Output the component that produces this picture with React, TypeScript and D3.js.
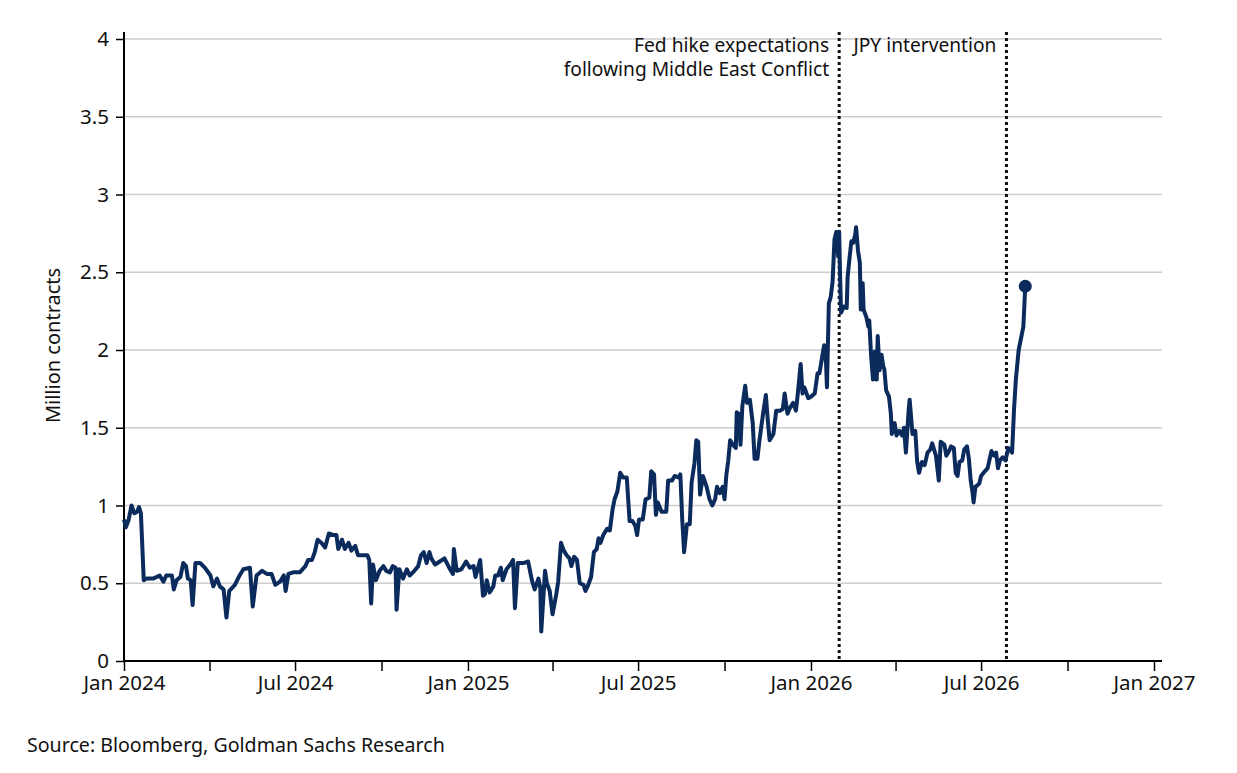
import { useEffect, useRef } from 'react';
import * as d3 from 'd3';

// Open interest, million contracts
const series2024: [string, number][] = [
    ["2024-01-01", 0.91], ["2024-01-03", 0.86], ["2024-01-06", 0.91], ["2024-01-09", 1.00], ["2024-01-12", 0.95],
    ["2024-01-15", 0.96], ["2024-01-17", 0.99], ["2024-01-19", 0.95], ["2024-01-22", 0.52], ["2024-01-25", 0.53],
    ["2024-02-01", 0.53], ["2024-02-08", 0.55], ["2024-02-12", 0.51], ["2024-02-15", 0.55], ["2024-02-21", 0.55],
    ["2024-02-23", 0.46], ["2024-02-26", 0.52], ["2024-03-01", 0.54], ["2024-03-04", 0.63], ["2024-03-07", 0.61],
    ["2024-03-09", 0.53], ["2024-03-12", 0.52], ["2024-03-14", 0.36], ["2024-03-17", 0.63], ["2024-03-22", 0.63],
    ["2024-03-27", 0.60], ["2024-04-02", 0.55], ["2024-04-05", 0.48], ["2024-04-09", 0.53], ["2024-04-12", 0.48],
    ["2024-04-16", 0.46], ["2024-04-19", 0.28], ["2024-04-22", 0.45], ["2024-04-28", 0.49], ["2024-05-03", 0.55],
    ["2024-05-07", 0.59], ["2024-05-14", 0.60], ["2024-05-17", 0.35], ["2024-05-21", 0.55], ["2024-05-27", 0.58],
    ["2024-06-01", 0.56], ["2024-06-06", 0.56], ["2024-06-10", 0.49], ["2024-06-15", 0.51], ["2024-06-19", 0.55],
    ["2024-06-21", 0.45], ["2024-06-24", 0.56], ["2024-06-29", 0.57], ["2024-07-06", 0.57], ["2024-07-12", 0.61],
    ["2024-07-15", 0.65], ["2024-07-19", 0.65], ["2024-07-22", 0.70], ["2024-07-25", 0.78], ["2024-07-29", 0.76],
    ["2024-08-02", 0.73], ["2024-08-06", 0.82], ["2024-08-11", 0.81], ["2024-08-14", 0.81], ["2024-08-16", 0.72],
    ["2024-08-20", 0.78], ["2024-08-23", 0.72], ["2024-08-27", 0.76], ["2024-08-30", 0.71], ["2024-09-03", 0.74],
    ["2024-09-06", 0.68], ["2024-09-12", 0.68], ["2024-09-16", 0.68], ["2024-09-18", 0.65], ["2024-09-20", 0.37],
    ["2024-09-22", 0.62], ["2024-09-25", 0.52], ["2024-09-29", 0.58], ["2024-10-03", 0.61], ["2024-10-06", 0.58],
    ["2024-10-10", 0.57], ["2024-10-13", 0.61], ["2024-10-16", 0.60], ["2024-10-17", 0.33], ["2024-10-20", 0.59],
    ["2024-10-24", 0.53], ["2024-10-28", 0.59], ["2024-10-31", 0.55], ["2024-11-05", 0.58], ["2024-11-09", 0.61],
    ["2024-11-12", 0.68], ["2024-11-15", 0.70], ["2024-11-18", 0.63], ["2024-11-21", 0.70], ["2024-11-23", 0.66],
    ["2024-11-27", 0.62], ["2024-12-02", 0.64], ["2024-12-07", 0.66], ["2024-12-12", 0.60], ["2024-12-16", 0.56],
    ["2024-12-17", 0.72], ["2024-12-20", 0.58], ["2024-12-25", 0.59], ["2024-12-30", 0.64],
];

const series2025: [string, number][] = [
    ["2025-01-03", 0.60], ["2025-01-07", 0.61], ["2025-01-09", 0.54], ["2025-01-14", 0.65], ["2025-01-17", 0.42],
    ["2025-01-19", 0.43], ["2025-01-21", 0.52], ["2025-01-24", 0.44], ["2025-01-28", 0.48], ["2025-01-30", 0.55],
    ["2025-02-02", 0.55], ["2025-02-05", 0.60], ["2025-02-07", 0.52], ["2025-02-11", 0.59], ["2025-02-15", 0.62],
    ["2025-02-18", 0.65], ["2025-02-20", 0.34], ["2025-02-23", 0.63], ["2025-03-01", 0.63], ["2025-03-06", 0.64],
    ["2025-03-10", 0.52], ["2025-03-13", 0.46], ["2025-03-17", 0.53], ["2025-03-19", 0.47], ["2025-03-20", 0.19],
    ["2025-03-24", 0.58], ["2025-03-26", 0.50], ["2025-03-29", 0.45], ["2025-04-01", 0.30], ["2025-04-05", 0.43],
    ["2025-04-07", 0.51], ["2025-04-10", 0.76], ["2025-04-13", 0.71], ["2025-04-16", 0.68], ["2025-04-19", 0.66],
    ["2025-04-21", 0.61], ["2025-04-24", 0.67], ["2025-04-27", 0.65], ["2025-04-30", 0.50], ["2025-05-04", 0.49],
    ["2025-05-06", 0.45], ["2025-05-09", 0.49], ["2025-05-12", 0.54], ["2025-05-15", 0.70], ["2025-05-18", 0.72],
    ["2025-05-20", 0.79], ["2025-05-22", 0.76], ["2025-05-25", 0.81], ["2025-05-29", 0.85], ["2025-06-01", 0.84],
    ["2025-06-04", 0.98], ["2025-06-06", 1.04], ["2025-06-09", 1.09], ["2025-06-12", 1.21], ["2025-06-15", 1.18],
    ["2025-06-19", 1.18], ["2025-06-22", 0.90], ["2025-06-25", 0.90], ["2025-06-28", 0.87], ["2025-06-30", 0.81],
    ["2025-07-02", 0.91], ["2025-07-06", 0.91], ["2025-07-09", 1.04], ["2025-07-13", 1.05], ["2025-07-15", 1.22],
    ["2025-07-18", 1.20], ["2025-07-20", 0.94], ["2025-07-22", 1.02], ["2025-07-26", 0.96], ["2025-07-31", 0.96],
    ["2025-08-02", 1.16], ["2025-08-06", 1.16], ["2025-08-09", 1.19], ["2025-08-13", 1.18], ["2025-08-15", 1.20],
    ["2025-08-17", 0.91], ["2025-08-19", 0.70], ["2025-08-22", 0.88], ["2025-08-25", 0.88], ["2025-08-27", 1.15],
    ["2025-08-30", 1.27], ["2025-09-01", 1.42], ["2025-09-03", 1.41], ["2025-09-05", 1.07], ["2025-09-08", 1.19],
    ["2025-09-12", 1.12], ["2025-09-15", 1.04], ["2025-09-18", 1.00], ["2025-09-21", 1.04], ["2025-09-23", 1.12],
    ["2025-09-26", 1.08], ["2025-09-29", 1.12], ["2025-10-01", 1.04], ["2025-10-03", 1.20], ["2025-10-05", 1.29],
    ["2025-10-07", 1.42], ["2025-10-10", 1.39], ["2025-10-13", 1.37], ["2025-10-14", 1.60], ["2025-10-16", 1.59],
    ["2025-10-18", 1.39], ["2025-10-20", 1.64], ["2025-10-23", 1.77], ["2025-10-25", 1.66], ["2025-10-28", 1.68],
    ["2025-10-31", 1.53], ["2025-11-02", 1.30], ["2025-11-05", 1.30], ["2025-11-07", 1.41], ["2025-11-11", 1.59],
    ["2025-11-14", 1.71], ["2025-11-16", 1.55], ["2025-11-18", 1.42], ["2025-11-22", 1.46], ["2025-11-25", 1.61],
    ["2025-11-29", 1.61], ["2025-12-02", 1.62], ["2025-12-04", 1.72], ["2025-12-07", 1.59], ["2025-12-09", 1.62],
    ["2025-12-13", 1.66], ["2025-12-16", 1.61], ["2025-12-18", 1.72], ["2025-12-21", 1.91], ["2025-12-23", 1.72],
    ["2025-12-25", 1.76], ["2025-12-29", 1.69],
];

const series2026: [string, number][] = [
    ["2026-01-01", 1.70], ["2026-01-05", 1.72], ["2026-01-08", 1.85], ["2026-01-10", 1.85], ["2026-01-13", 1.96],
    ["2026-01-15", 2.03], ["2026-01-17", 1.92], ["2026-01-18", 1.76], ["2026-01-20", 2.30], ["2026-01-22", 2.34],
    ["2026-01-24", 2.44], ["2026-01-26", 2.71], ["2026-01-28", 2.76], ["2026-01-30", 2.60], ["2026-01-31", 2.76],
    ["2026-02-01", 2.47], ["2026-02-02", 2.24], ["2026-02-05", 2.28], ["2026-02-08", 2.27], ["2026-02-09", 2.47],
    ["2026-02-11", 2.59], ["2026-02-13", 2.70], ["2026-02-15", 2.69], ["2026-02-17", 2.74], ["2026-02-18", 2.79],
    ["2026-02-20", 2.64], ["2026-02-22", 2.56], ["2026-02-23", 2.26], ["2026-02-25", 2.43], ["2026-02-26", 2.26],
    ["2026-03-01", 2.21], ["2026-03-03", 2.15], ["2026-03-04", 2.19], ["2026-03-06", 1.96], ["2026-03-08", 1.81],
    ["2026-03-10", 1.99], ["2026-03-12", 1.81], ["2026-03-13", 2.09], ["2026-03-15", 1.87], ["2026-03-17", 1.97],
    ["2026-03-19", 1.89], ["2026-03-20", 1.88], ["2026-03-22", 1.74], ["2026-03-25", 1.70], ["2026-03-27", 1.59],
    ["2026-03-28", 1.46], ["2026-03-31", 1.53], ["2026-04-02", 1.45], ["2026-04-05", 1.48], ["2026-04-08", 1.45],
    ["2026-04-10", 1.50], ["2026-04-12", 1.34], ["2026-04-15", 1.62], ["2026-04-16", 1.68], ["2026-04-19", 1.46],
    ["2026-04-22", 1.48], ["2026-04-24", 1.28], ["2026-04-26", 1.21], ["2026-04-29", 1.28], ["2026-05-02", 1.26],
    ["2026-05-05", 1.34], ["2026-05-08", 1.36], ["2026-05-10", 1.40], ["2026-05-14", 1.32], ["2026-05-17", 1.16],
    ["2026-05-19", 1.41], ["2026-05-23", 1.39], ["2026-05-25", 1.32], ["2026-05-28", 1.35], ["2026-05-30", 1.38],
    ["2026-06-02", 1.37], ["2026-06-04", 1.21], ["2026-06-06", 1.19], ["2026-06-08", 1.28], ["2026-06-11", 1.29],
    ["2026-06-13", 1.36], ["2026-06-16", 1.38], ["2026-06-18", 1.30], ["2026-06-20", 1.16], ["2026-06-22", 1.08],
    ["2026-06-23", 1.02], ["2026-06-25", 1.12], ["2026-06-29", 1.14], ["2026-07-01", 1.19], ["2026-07-05", 1.22],
    ["2026-07-08", 1.24], ["2026-07-12", 1.35], ["2026-07-14", 1.33], ["2026-07-15", 1.32], ["2026-07-17", 1.34],
    ["2026-07-19", 1.24], ["2026-07-21", 1.29], ["2026-07-24", 1.31], ["2026-07-27", 1.29], ["2026-07-30", 1.37],
    ["2026-08-01", 1.36], ["2026-08-03", 1.34], ["2026-08-05", 1.61], ["2026-08-07", 1.81], ["2026-08-10", 2.00],
    ["2026-08-13", 2.09], ["2026-08-15", 2.15], ["2026-08-17", 2.41],
];

const yTicks = [0, 0.5, 1, 1.5, 2, 2.5, 3, 3.5, 4];

const events = [
    { date: "2026-01-31", lines: ["Fed hike expectations", "following Middle East Conflict"] },
    { date: "2026-07-28", lines: ["JPY intervention"] },
];

const yLabel = "Million contracts";
const sourceText = "Source: Bloomberg, Goldman Sachs Research";

export default function App() {
    const svgRef = useRef<SVGSVGElement>(null);
    const width = 1237;
    const height = 773;

    useEffect(() => {
        if (!svgRef.current) return;
        const svg = d3.select(svgRef.current);
        svg.selectAll("*").remove();

        const font = "'Noto Sans', 'Open Sans', sans-serif";
        const navy = "#0b2b5c";
        const ink = "#111";
        const parse = d3.timeParse("%Y-%m-%d");
        const data = [...series2024, ...series2025, ...series2026]
            .map(([d, v]) => ({ date: parse(d) as Date, value: v }));

        const left = 124, right = 1154, top = 39, bottom = 661;
        const x = d3.scaleTime()
            .domain([new Date(2024, 0, 1), new Date(2027, 0, 1)])
            .range([left, right]);
        const y = d3.scaleLinear().domain([0, 4]).range([bottom, top]);

        // grid
        svg.append("g")
            .selectAll("line")
            .data(yTicks.filter(t => t > 0))
            .enter()
            .append("line")
            .attr("x1", left)
            .attr("x2", 1162)
            .attr("y1", d => y(d))
            .attr("y2", d => y(d))
            .attr("stroke", "#cdcdcd")
            .attr("stroke-width", 1.5);

        // y axis
        const yAxis = svg.append("g")
            .attr("transform", `translate(${left},0)`)
            .call(d3.axisLeft(y).tickValues(yTicks).tickSize(8).tickPadding(7).tickFormat(d => String(d)));
        yAxis.select(".domain").remove();
        yAxis.selectAll(".tick line").attr("stroke", "#000").attr("stroke-width", 1.5);
        yAxis.selectAll("text")
            .style("font-family", font)
            .style("font-size", "20.5px")
            .style("fill", ink);
        svg.append("line")
            .attr("x1", left).attr("x2", left)
            .attr("y1", 32).attr("y2", bottom)
            .attr("stroke", "#000").attr("stroke-width", 2);

        // x axis
        const xAxis = svg.append("g")
            .attr("transform", `translate(0,${bottom})`)
            .call(d3.axisBottom(x)
                .ticks(d3.timeMonth.every(3))
                .tickSize(10)
                .tickPadding(4)
                .tickFormat(d => {
                    const m = (d as Date).getMonth();
                    return m === 0 || m === 6 ? d3.timeFormat("%b %Y")(d as Date) : "";
                }));
        xAxis.select(".domain").remove();
        xAxis.selectAll(".tick line").attr("stroke", "#000").attr("stroke-width", 1.5);
        xAxis.selectAll("text")
            .style("font-family", font)
            .style("font-size", "20.5px")
            .style("fill", ink);
        svg.append("line")
            .attr("x1", left).attr("x2", 1162)
            .attr("y1", bottom).attr("y2", bottom)
            .attr("stroke", "#000").attr("stroke-width", 2);

        // event markers
        events.forEach(ev => {
            const ex = x(parse(ev.date) as Date);
            svg.append("line")
                .attr("x1", ex).attr("x2", ex)
                .attr("y1", 32).attr("y2", bottom)
                .attr("stroke", ink)
                .attr("stroke-width", 3)
                .attr("stroke-dasharray", "3,3");
            const t = svg.append("text")
                .attr("text-anchor", "end")
                .style("font-family", font)
                .style("font-size", "19.2px")
                .style("fill", ink);
            ev.lines.forEach((ln, i) => {
                t.append("tspan").attr("x", ex - 10).attr("y", 52 + i * 23.5).text(ln);
            });
        });

        // line
        const line = d3.line<{ date: Date; value: number }>()
            .x(d => x(d.date))
            .y(d => y(d.value));

        svg.append("path")
            .datum(data)
            .attr("fill", "none")
            .attr("stroke", navy)
            .attr("stroke-width", 4)
            .attr("stroke-linejoin", "round")
            .attr("d", line);

        const last = data[data.length - 1];
        svg.append("circle")
            .attr("cx", x(last.date))
            .attr("cy", y(last.value))
            .attr("r", 6.5)
            .attr("fill", navy);

        // y label
        svg.append("text")
            .attr("transform", `translate(60,345.5) rotate(-90)`)
            .attr("text-anchor", "middle")
            .style("font-family", font)
            .style("font-size", "20px")
            .style("fill", ink)
            .text(yLabel);

        // source
        svg.append("text")
            .attr("x", 27)
            .attr("y", 752)
            .style("font-family", font)
            .style("font-size", "19.6px")
            .style("fill", ink)
            .text(sourceText);
    }, []);

    return (
        <svg
            ref={svgRef}
            width={width}
            height={height}
            style={{ position: 'absolute', left: 0, top: 0, background: '#fff' }}
        />
    );
}
